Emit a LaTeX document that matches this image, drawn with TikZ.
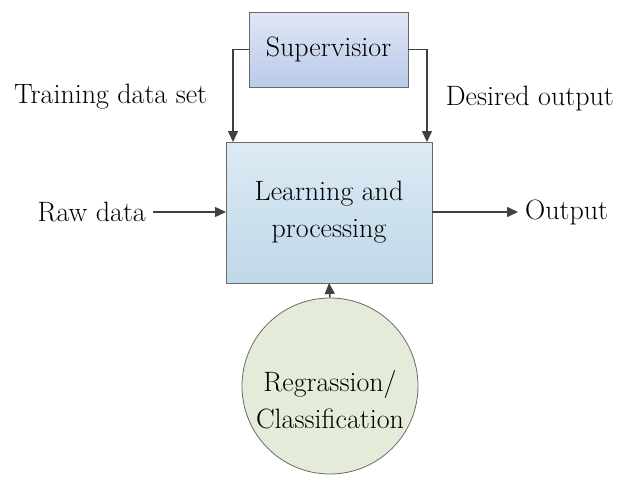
\documentclass[tikz,border=0pt]{standalone}
\usetikzlibrary{arrows.meta,shapes.geometric}
\definecolor{supTop}{HTML}{DFE6F5}
\definecolor{supBot}{HTML}{BACAE8}
\definecolor{mainTop}{HTML}{DDEAF4}
\definecolor{mainBot}{HTML}{BFD8E8}
\definecolor{circFill}{HTML}{E4EBD8}
\definecolor{edge}{HTML}{6A6A6A}
\definecolor{wire}{HTML}{404040}
\tikzset{
  lbl/.style={font=\fontsize{28}{37}\selectfont, inner sep=0pt},
  boxtext/.style={font=\fontsize{28}{37}\selectfont, align=center, text=black},
  flow/.style={draw=wire, line width=1.4pt, -{Triangle[length=11pt,width=10pt]}},
}
\begin{document}
\begin{tikzpicture}[x=1pt,y=-1pt]
  \useasboundingbox (0,0) rectangle (618,485);
  % supervisor box
  \shade[top color=supTop, bottom color=supBot, draw=edge, line width=0.8pt]
    (249,12) rectangle (408,87);
  \node[boxtext] (sup) at (328.5,49.5) {Supervisior};
  \coordinate (supL) at (249,49.5);
  \coordinate (supR) at (408,49.5);
  % learning box
  \shade[top color=mainTop, bottom color=mainBot, draw=edge, line width=0.8pt]
    (226,142) rectangle (432,283);
  \node[boxtext] (learn) at (329,212.5) {Learning and\\ processing};
  \coordinate (learnN1) at (233,142);
  \coordinate (learnN2) at (427,142);
  \coordinate (learnW) at (226,212);
  \coordinate (learnE) at (432,212);
  \coordinate (learnS) at (329,283);
  % regression circle, label set a little below its centre
  \node[circle, draw=edge, line width=0.8pt, fill=circFill, minimum size=176pt,
        inner sep=0pt] (reg) at (330,386) {};
  \node[boxtext] (regtext) at (330,400) {Regrassion/\\ Classification};
  % labels
  \node[lbl, anchor=west] (train) at (14,97) {Training data set};
  \node[lbl, anchor=east] (desired) at (614,99) {Desired output};
  \node[lbl, anchor=east] (raw) at (146,212) {Raw data};
  \node[lbl, anchor=west] (out) at (525,212) {Output};
  % connectors
  \draw[flow] (supL) -| (learnN1);
  \draw[flow] (supR) -| (learnN2);
  \draw[flow] (raw.east) ++(7,0) -- (learnW);
  \draw[flow] (learnE) -- ([xshift=-7pt]out.west);
  \draw[flow] (reg.north) -- (learnS);
\end{tikzpicture}
\end{document}
